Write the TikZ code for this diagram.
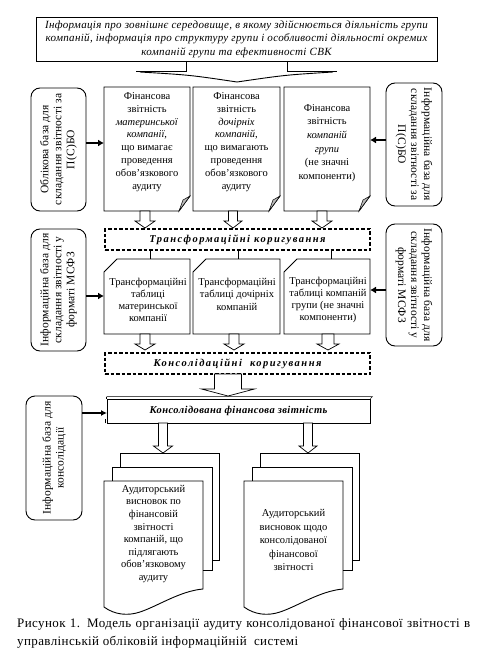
\documentclass[tikz,border=0pt]{standalone}
\usepackage{fontspec}
\setmainfont{Liberation Serif}
\usetikzlibrary{arrows.meta,calc}
\newcommand\hollowarr[6]{% x, ytop, ytip, shaft half, head half, head length
  \draw[harr] (#1-#4,#2) -- (#1+#4,#2) -- (#1+#4,#3-#6) -- (#1+#5,#3-#6) -- (#1,#3)
    -- (#1-#5,#3-#6) -- (#1-#4,#3-#6) -- cycle;}
\newcommand\foldbox[4]{% x1,y1,x2,y2
  \draw[outl] (#1,#2) -- (#3,#2) -- (#3,#4-15) -- (#3-11,#4) -- (#1,#4) -- cycle;
  \filldraw[fill=gray!55, line width=0.5pt] (#3,#4-15) -- (#3-11,#4) -- (#3-7,#4-11) -- cycle;}
\newcommand\snipbox[4]{%
  \draw[outl] (#1+13,#2) -- (#3,#2) -- (#3,#4) -- (#1,#4) -- (#1,#2+13) -- cycle;}
\newcommand\multidoc[4]{% x1 (front left), x2 (front right), ytop front, ybottom
  \draw[outl] (#1+16,#3-14) -- (#1+16,#3-28) -- (#2+16,#3-28) -- (#2+16,#3+79) -- (#2+9,#3+79);
  \draw[outl] (#1+8,#3) -- (#1+8,#3-14) -- (#2+9,#3-14) -- (#2+9,#3+89) -- (#2,#3+89);
  \draw[outl] (#1,#3) -- (#2,#3) -- (#2,#3+108)
     .. controls (#2-23,#3+110) and (#2-45,#3+125) .. (#2-63,#3+131)
     .. controls (#2-75,#3+135) and (#2-88,#3+134) .. (#1,#3+126) -- cycle;}
\begin{document}
\begin{tikzpicture}[x=1pt,y=-1pt,
  every node/.style={font=\fontsize{10.5}{12.8}\selectfont, align=center, inner sep=0pt},
  outl/.style={draw=black, line width=0.9pt},
  rbox/.style={draw, line width=0.9pt, rounded corners=9pt, inner sep=0pt,
     font=\fontsize{11.5}{13}\selectfont\addfontfeatures{LetterSpace=1}},
  dbox/.style={draw, line width=1.2pt, dash pattern=on 3.5pt off 2pt, inner sep=0pt,
     font=\fontsize{10.5}{12}\selectfont\bfseries\itshape\addfontfeatures{LetterSpace=14}},
  feed/.style={line width=2.4pt, -{Latex[length=6pt,width=7pt]}},
  feedthin/.style={line width=1.6pt, -{Latex[length=6pt,width=6pt]}},
  harr/.style={draw, line width=0.7pt, fill=white},
]
\useasboundingbox (0,0) rectangle (484,669);

% top box
\node[draw, line width=0.9pt, minimum width=401, minimum height=44,
  font=\itshape\fontsize{11}{13.5}\selectfont\addfontfeatures{LetterSpace=3}] (top) at (236.5,39)
  {Інформація про зовнішнє середовище, в якому здійснюється діяльність групи\\
   компаній, інформація про структуру групи і особливості діяльності окремих\\
   компаній групи та ефективності СВК};
% brace
\draw[outl] (186,61) -- (186,71) -- (136,71);
\draw[outl] (287,61) -- (287,71) -- (337,71);
\draw[outl] (140,72) .. controls (190,75) .. (237,82) .. controls (285,75) .. (333,72);

% row 1 side boxes
\node[rbox, rotate=90, minimum width=123, minimum height=55] (lb1) at (58.5,149.5)
  {Облікова база для\\складання звітності за\\П(С)БО};
\node[rbox, rotate=-90, minimum width=123, minimum height=56] (rb1) at (414,144.5)
  {Інформаційна база для\\складання звітності за\\П(С)БО};

% row 1 documents
\foldbox{104}{87}{190}{211}
\foldbox{193}{87}{280}{211}
\foldbox{284}{87}{370}{211}
\node (d1t) at (147,142) {Фінансова\\звітність\\\textit{материнської}\\\textit{компанії},\\що вимагає\\проведення\\обов'язкового\\аудиту};
\node (d2t) at (236.5,142) {Фінансова\\звітність\\\textit{дочірніх}\\\textit{компаній},\\що вимагають\\проведення\\обов'язкового\\аудиту};
\node[font=\fontsize{10.5}{13.6}\selectfont] (d3t) at (327,143) {Фінансова\\звітність\\\textit{компаній}\\\textit{групи}\\(не значні\\компоненти)};
\coordinate (d1w) at (104,143);
\coordinate (d3e) at (370,140);
\draw[feed] (lb1.south |- d1w) -- (d1w);
\draw[feed] (rb1.south |- d3e) -- (d3e);

\hollowarr{145}{211}{228}{5}{10}{7}
\hollowarr{233}{211}{228}{4.5}{9}{7}
\hollowarr{322}{211}{228}{5}{10}{7}

% transformation adjustments
\node[dbox, minimum width=265, minimum height=21] (tk) at (237.5,239.5) {Трансформаційні коригування};

% row 2 side boxes
\node[rbox, rotate=90, minimum width=122, minimum height=55] (lb2) at (58.5,290)
  {Інформаційна база для\\складання звітності у\\форматі МСФЗ};
\node[rbox, rotate=-90, minimum width=122, minimum height=56] (rb2) at (414,285)
  {Інформаційна база для\\складання звітності у\\форматі МСФЗ};

% row 2 tables
\snipbox{104}{259}{190}{334}
\snipbox{193}{259}{280}{334}
\snipbox{284}{259}{370}{334}
\node[font=\fontsize{10.5}{12}\selectfont] (t1t) at (148,300) {Трансформаційні\\таблиці\\материнської\\компанії};
\node[font=\fontsize{10.5}{12.5}\selectfont] (t2t) at (237,294) {Трансформаційні\\таблиці дочірніх\\компаній};
\node[font=\fontsize{10.5}{12.3}\selectfont] (t3t) at (328,300) {Трансформаційні\\таблиці компаній\\групи (не значні\\компоненти)};
\draw[outl] (tk.south -| 150,0) -- (150,259);
\draw[outl] (tk.south -| 238,0) -- (238,259);
\draw[outl] (tk.south -| 331,0) -- (331,259);
\coordinate (t1w) at (104,296);
\coordinate (t3e) at (370,290);
\draw[feed] (lb2.south |- t1w) -- (t1w);
\draw[feed] (rb2.south |- t3e) -- (t3e);

\hollowarr{145}{334}{350}{5}{10}{6}
\hollowarr{234}{334}{350}{5}{10}{6}
\hollowarr{328}{334}{350}{6}{11}{6}

% consolidation adjustments
\node[dbox, minimum width=265, minimum height=21] (kk) at (237.5,363.5) {Консолідаційні\hspace{4pt} коригування};

\hollowarr{228}{374}{396}{13.5}{26.5}{7}

% consolidated statements
\node[draw, line width=0.9pt, minimum width=263, minimum height=24,
  font=\fontsize{10.5}{12}\selectfont\bfseries\itshape\addfontfeatures{LetterSpace=4}] (kfz) at (238.5,411)
  {Консолідована фінансова звітність};
\draw[line width=0.6pt] ($(kfz.north west)+(0,-2)$) -- ($(kfz.north east)+(2,-2)$) -- (kfz.north east);
\draw[line width=0.6pt] ($(kfz.north west)+(0,-2)$) -- (kfz.north west);
\draw[line width=0.6pt] ($(kfz.south west)+(-1,0)$) -- ($(kfz.south west)+(-1,-4)$);

\node[rbox, rotate=90, minimum width=124, minimum height=56] (lb3) at (54,458)
  {Інформаційна база для\\консолідації};
\coordinate (kw) at (107,413);
\draw[feedthin] (lb3.south |- kw) -- (kw);

\hollowarr{163}{423}{453}{4.5}{9.5}{7}
\hollowarr{308}{423}{453}{4.5}{9}{7}

% audit reports
\multidoc{104}{203}{481}{607}
\multidoc{244}{343}{481}{607}
\node[font=\fontsize{10.5}{12.6}\selectfont] (a1) at (153.5,534) {Аудиторський\\висновок по\\фінансовій\\звітності\\компаній, що\\підлягають\\обов'язковому\\аудиту};
\node[font=\fontsize{10.5}{13.5}\selectfont] (a2) at (293.5,540) {Аудиторський\\висновок щодо\\консолідованої\\фінансової\\звітності};

% caption
\node[anchor=north west, text width=453, align=justify,
  font=\fontsize{13}{18}\selectfont\addfontfeatures{LetterSpace=3}] (cap) at (17,618)
  {Рисунок 1. Модель організації аудиту консолідованої фінансової звітності в\linebreak
   управлінській обліковій інформаційній\ \ системі};
\end{tikzpicture}
\end{document}
